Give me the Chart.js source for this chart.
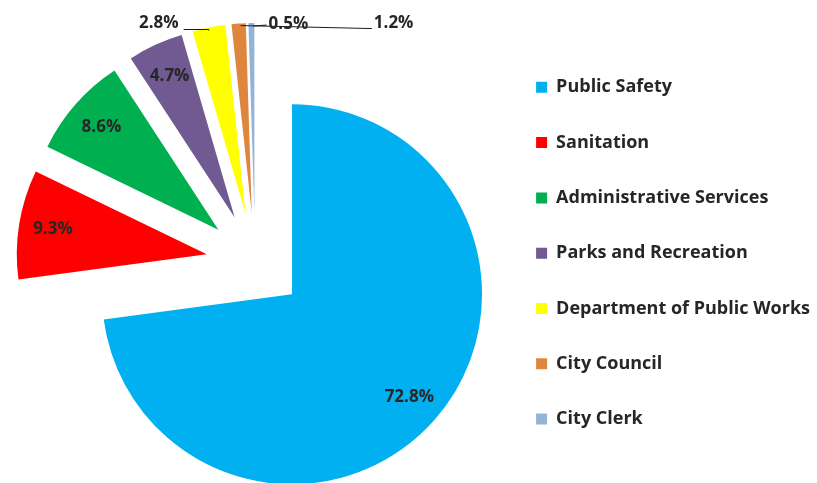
<!DOCTYPE html>
<html>
<head>
<meta charset="utf-8">
<script src="https://cdn.jsdelivr.net/npm/chart.js@4.4.1/dist/chart.umd.min.js"></script>
<style>
  html, body { margin: 0; padding: 0; background: #fff; }
  #wrap { width: 817px; height: 483px; position: relative; }
</style>
</head>
<body>
<div id="wrap"><canvas id="budgetPie"></canvas></div>
<script>
// budget share per department (%)
const departments = ['Public Safety', 'Sanitation', 'Administrative Services', 'Parks and Recreation',
                     'Department of Public Works', 'City Council', 'City Clerk'];
const shares = [72.8, 9.3, 8.6, 4.7, 2.8, 1.2, 0.5];
const colors = ['#00B0F0', '#FF0000', '#00B050', '#705A91', '#FFFF00', '#DE853E', '#95B3D7'];

const FONT = { family: "'Open Sans'", weight: 'bold', size: 17 };
const LEGEND_FONT = { family: "'Open Sans'", weight: 'bold', size: 18 };
const TEXT_COLOR = '#262626';
const EXPLODE = 49;      // how far every slice is pulled out (px)
const LABEL_POS = 0.82;  // inside labels, fraction of the radius
// small slices get their label outside: shift from the slice tip [dx, dy]
const outsideShift = { 4: [-50, -4], 5: [155, 0], 6: [37, 1] };

// the built-in offset also grows the radius, so pull the slices out by hand
const explodeSlices = {
  id: 'explodeSlices',
  beforeDatasetDraw(chart, args) {
    const ctx = chart.ctx;
    args.meta.data.forEach(arc => {
      const mid = (arc.startAngle + arc.endAngle) / 2;
      ctx.save();
      ctx.translate(Math.cos(mid) * EXPLODE, Math.sin(mid) * EXPLODE);
      arc.draw(ctx, chart.chartArea);
      ctx.restore();
    });
    return false;
  }
};

const pieLabels = {
  id: 'pieLabels',
  afterDatasetsDraw(chart) {
    const ctx = chart.ctx;
    const meta = chart.getDatasetMeta(0);
    ctx.save();
    ctx.font = `${FONT.weight} ${FONT.size}px ${FONT.family}`;
    ctx.fillStyle = TEXT_COLOR;
    ctx.strokeStyle = '#1a1a1a';
    ctx.lineWidth = 1;
    ctx.textAlign = 'center';
    ctx.textBaseline = 'middle';
    meta.data.forEach((arc, i) => {
      const { x, y, startAngle, endAngle, outerRadius } = arc;
      const mid = (startAngle + endAngle) / 2;
      const cos = Math.cos(mid), sin = Math.sin(mid);
      const text = shares[i].toFixed(1) + '%';
      const shift = outsideShift[i];
      if (!shift) {
        const d = EXPLODE + outerRadius * LABEL_POS;
        ctx.fillText(text, x + cos * d, y + sin * d);
        return;
      }
      const tx = x + cos * (EXPLODE + outerRadius);
      const ty = y + sin * (EXPLODE + outerRadius);
      const lx = tx + shift[0], ly = ty + shift[1];
      const w = ctx.measureText(text).width;
      ctx.beginPath();
      if (shift[0] < 0) {
        ctx.moveTo(lx + w / 2 + 5, ly + 6);
        ctx.lineTo(tx, ly + 6);
        ctx.lineTo(tx, ty + 3);
      } else if (shift[0] > 100) {
        ctx.moveTo(lx - w / 2 - 2, ly + 5);
        ctx.lineTo(tx + 2, ty + 2);
      } else {
        ctx.moveTo(lx - w / 2 - 2, ly + 1);
        ctx.lineTo(tx + 2, ty + 3);
      }
      ctx.stroke();
      ctx.fillText(text, lx, ly);
    });
    ctx.restore();
  }
};

new Chart(document.getElementById('budgetPie'), {
  type: 'pie',
  data: {
    labels: departments,
    datasets: [{
      data: shares,
      backgroundColor: colors,
      borderWidth: 0,
      radius: 190
    }]
  },
  options: {
    responsive: true,
    maintainAspectRatio: false,
    animation: false,
    layout: { padding: { left: 11.5, top: 41, bottom: 0, right: -3 } },
    plugins: {
      tooltip: { enabled: false },
      legend: {
        position: 'right',
        align: 'start',
        labels: {
          boxWidth: 11,
          boxHeight: 11,
          padding: 37.3,
          color: TEXT_COLOR,
          font: LEGEND_FONT
        }
      }
    }
  },
  plugins: [explodeSlices, pieLabels]
});
</script>
</body>
</html>
